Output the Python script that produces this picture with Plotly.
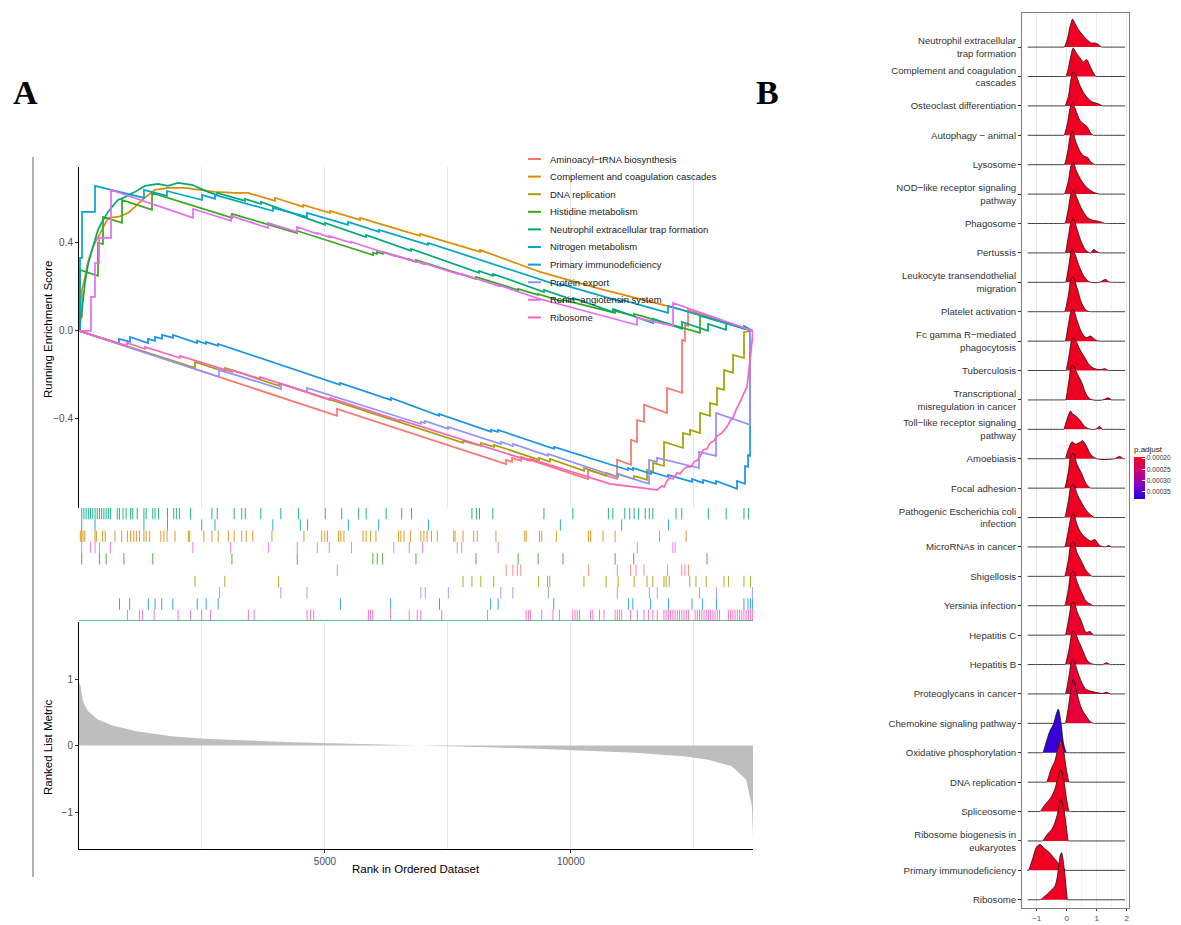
import plotly.graph_objects as go
from plotly.colors import sample_colorscale

# The page body keeps a default 8px margin, so the figure is drawn 8px in from the window corner.
PAGE_W, PAGE_H = 1181, 925
BODY_OFF = 8
FIG_W, FIG_H = PAGE_W - BODY_OFF, PAGE_H - BODY_OFF

# ================= Panel A : GSEA plot data =================
n_genes = 13702

set_names = [
    "Aminoacyl−tRNA biosynthesis",
    "Complement and coagulation cascades",
    "DNA replication",
    "Histidine metabolism",
    "Neutrophil extracellular trap formation",
    "Nitrogen metabolism",
    "Primary immunodeficiency",
    "Protein export",
    "Renin−angiotensin system",
    "Ribosome",
]
set_colors = ["#F8766D", "#DE8C00", "#A3A000", "#36A81E", "#00A878",
              "#00A5C8", "#1A92E8", "#9590FF", "#E76BF3", "#FF62BC"]

# running enrichment score (rank, ES) vertices
es_rank_aminoacyl = [0, 5245, 5245, 8681, 8681, 8803, 8803, 8986, 8986, 10348, 10348, 10938, 10938, 11222, 11222,
                     11344, 11344, 11486, 11486, 11954, 11954, 12259, 12259, 12320, 12320, 12381, 12381, 13702]
es_val_aminoacyl = [0, -0.386, -0.355, -0.605, -0.586, -0.595, -0.577, -0.591, -0.573, -0.673, -0.632, -0.673, -0.586,
                    -0.609, -0.495, -0.505, -0.405, -0.414, -0.336, -0.373, -0.259, -0.282, -0.041, -0.045, 0.027,
                    0.023, 0.095, 0]

es_rank_complement = [0, 20, 61, 61, 122, 183, 264, 325, 468, 590, 793, 996, 1138, 1281, 1545, 1809, 2155, 2501, 2765,
                      3171, 3436, 3985, 3985, 4554, 4554, 5103, 5103, 5713, 5713, 6933, 6933, 8152, 8152, 9372, 10592,
                      11873, 12279, 13702]
es_val_complement = [0, 0.064, 0.064, 0.186, 0.245, 0.314, 0.368, 0.4, 0.459, 0.514, 0.518, 0.536, 0.564, 0.595,
                     0.641, 0.65, 0.65, 0.641, 0.632, 0.627, 0.627, 0.591, 0.605, 0.564, 0.573, 0.536, 0.545, 0.505,
                     0.514, 0.432, 0.441, 0.359, 0.368, 0.268, 0.191, 0.118, 0.095, 0]

es_rank_dna = [0, 2358, 2358, 2968, 2968, 4066, 4066, 7807, 7807, 8173, 8173, 8437, 8437, 9352, 9352, 9575, 9575,
               10267, 10267, 10714, 10714, 10958, 10958, 11283, 11283, 11547, 11547, 11670, 11670, 11893, 11893,
               12279, 12279, 12422, 12422, 12625, 12625, 12828, 12828, 12970, 12970, 13113, 13113, 13296, 13296,
               13519, 13519, 13702]
es_val_dna = [0, -0.168, -0.141, -0.186, -0.168, -0.25, -0.236, -0.509, -0.5, -0.523, -0.509, -0.527, -0.518, -0.586,
              -0.577, -0.595, -0.582, -0.636, -0.623, -0.659, -0.645, -0.664, -0.65, -0.673, -0.659, -0.677, -0.632,
              -0.641, -0.6, -0.614, -0.505, -0.532, -0.464, -0.473, -0.45, -0.464, -0.373, -0.386, -0.327, -0.336,
              -0.259, -0.268, -0.177, -0.191, -0.109, -0.123, -0.005, 0]

es_rank_histidine = [0, 20, 20, 386, 386, 488, 488, 874, 874, 1484, 1484, 3110, 3110, 4432, 4432, 5977, 5977, 6058,
                     6058, 6180, 6180, 6851, 6851, 8071, 8071, 8925, 8925, 9331, 9331, 9840, 9840, 10897, 10897,
                     11283, 11283, 12625, 12625, 13702]
es_val_histidine = [0, 0, 0.277, 0.25, 0.4, 0.395, 0.518, 0.491, 0.595, 0.55, 0.627, 0.514, 0.532, 0.445, 0.455,
                    0.345, 0.355, 0.35, 0.359, 0.35, 0.359, 0.314, 0.323, 0.236, 0.245, 0.186, 0.191, 0.164, 0.168,
                    0.132, 0.141, 0.082, 0.091, 0.068, 0.077, -0.009, 0.068, 0]

es_rank_neutrophil = [0, 61, 122, 183, 264, 325, 386, 468, 529, 590, 671, 793, 935, 1138, 1342, 1606, 1809, 2013,
                      2297, 2623, 2806, 2806, 3375, 3375, 3700, 3700, 4493, 5001, 5001, 5835, 5835, 6750, 6750, 8132,
                      8132, 8417, 8417, 9453, 9453, 10043, 10043, 10856, 10856, 11670, 11670, 12259, 12259, 12788,
                      12788, 13154, 13154, 13519, 13519, 13702]
es_val_neutrophil = [0, 0.095, 0.218, 0.3, 0.368, 0.414, 0.459, 0.495, 0.518, 0.541, 0.564, 0.595, 0.609, 0.632,
                     0.659, 0.668, 0.659, 0.673, 0.664, 0.632, 0.618, 0.627, 0.591, 0.6, 0.577, 0.586, 0.523, 0.482,
                     0.491, 0.427, 0.436, 0.364, 0.373, 0.264, 0.273, 0.25, 0.259, 0.177, 0.186, 0.141, 0.15, 0.086,
                     0.1, 0.036, 0.055, 0.009, 0.041, 0, 0.032, 0.005, 0.036, 0.009, 0.023, 0]

es_rank_nitrogen = [0, 20, 20, 61, 61, 325, 325, 1321, 1321, 1789, 1789, 2501, 2501, 2765, 2765, 3944, 3944, 4493,
                    4635, 4635, 5469, 5469, 6099, 6099, 7095, 7095, 9372, 9779, 9779, 11039, 11039, 11873, 11975,
                    11975, 13702]
es_val_nitrogen = [0, 0, 0.332, 0.332, 0.541, 0.541, 0.659, 0.605, 0.641, 0.614, 0.636, 0.595, 0.618, 0.6, 0.618,
                   0.545, 0.559, 0.527, 0.518, 0.536, 0.482, 0.495, 0.45, 0.459, 0.391, 0.4, 0.232, 0.205, 0.214,
                   0.132, 0.141, 0.086, 0.082, 0.114, 0]

es_rank_primary = [0, 813, 813, 1037, 1037, 1403, 1403, 1545, 1545, 1687, 1687, 1911, 1911, 2399, 2399, 2582, 2582,
                   2826, 2826, 5306, 5306, 6343, 6343, 7319, 7319, 8376, 8376, 8518, 8518, 9657, 9657, 11161, 11161,
                   11263, 11263, 11629, 11629, 11975, 11975, 12462, 12462, 12686, 12686, 12950, 12950, 13377, 13377,
                   13540, 13540, 13601, 13601, 13642, 13642, 13702]
es_val_primary = [0, -0.059, -0.036, -0.05, -0.027, -0.055, -0.036, -0.045, -0.027, -0.036, -0.018, -0.032, -0.018,
                  -0.055, -0.045, -0.059, -0.05, -0.068, -0.059, -0.245, -0.236, -0.314, -0.305, -0.386, -0.377,
                  -0.459, -0.45, -0.459, -0.45, -0.536, -0.527, -0.632, -0.623, -0.632, -0.623, -0.65, -0.641,
                  -0.664, -0.655, -0.686, -0.673, -0.691, -0.677, -0.695, -0.682, -0.718, -0.682, -0.695, -0.614,
                  -0.618, -0.564, -0.568, 0, 0]

es_rank_protein = [0, 2846, 2846, 4107, 4107, 4635, 4635, 6953, 6953, 7034, 7034, 7502, 7502, 8579, 8579, 8823, 8823,
                   9535, 9535, 10938, 10938, 11588, 11588, 11751, 11751, 12605, 12605, 12950, 12950, 13642, 13642,
                   13702]
es_val_protein = [0, -0.209, -0.177, -0.264, -0.241, -0.277, -0.259, -0.423, -0.414, -0.418, -0.409, -0.445, -0.436,
                  -0.514, -0.505, -0.523, -0.514, -0.568, -0.559, -0.664, -0.65, -0.695, -0.586, -0.595, -0.577,
                  -0.623, -0.55, -0.568, -0.373, -0.427, 0, 0]

es_rank_renin = [0, 244, 244, 325, 325, 407, 407, 651, 651, 2318, 2318, 3091, 3091, 3842, 3842, 4432, 4432, 4839,
                 4839, 5083, 5083, 5530, 5530, 6404, 6404, 6709, 6709, 6994, 6994, 7685, 7685, 7786, 7786, 8518, 8518,
                 9372, 11344, 11344, 12076, 12076, 13702]
es_val_renin = [0, 0, 0.155, 0.155, 0.309, 0.309, 0.423, 0.423, 0.641, 0.514, 0.555, 0.5, 0.523, 0.468, 0.491, 0.45,
                0.473, 0.441, 0.445, 0.427, 0.432, 0.4, 0.405, 0.341, 0.345, 0.323, 0.327, 0.305, 0.309, 0.259,
                0.264, 0.255, 0.259, 0.205, 0.209, 0.145, 0.027, 0.059, 0.023, 0.127, 0]

es_rank_ribosome = [0, 976, 976, 1342, 1342, 2053, 2053, 3110, 3110, 3680, 3680, 5103, 5103, 6526, 6526, 8152, 9169,
                    9169, 9779, 10795, 11751, 11853, 11893, 11954, 12015, 12076, 12157, 12218, 12300, 12361, 12442,
                    12503, 12584, 12645, 12686, 12767, 12828, 12910, 12970, 13052, 13113, 13174, 13235, 13296, 13357,
                    13397, 13438, 13479, 13519, 13560, 13581, 13601, 13621, 13642, 13662, 13682, 13702]
es_val_ribosome = [0, -0.068, -0.055, -0.082, -0.073, -0.123, -0.114, -0.186, -0.177, -0.218, -0.209, -0.314,
                   -0.305, -0.409, -0.405, -0.518, -0.591, -0.582, -0.623, -0.695, -0.723, -0.705, -0.709, -0.682,
                   -0.668, -0.673, -0.645, -0.65, -0.627, -0.618, -0.618, -0.595, -0.586, -0.564, -0.541, -0.536,
                   -0.509, -0.5, -0.477, -0.468, -0.45, -0.436, -0.409, -0.395, -0.359, -0.341, -0.327, -0.305,
                   -0.282, -0.264, -0.255, -0.214, -0.177, -0.141, -0.095, -0.05, 0]

# hit positions (rug)
hits_neutrophil = [55, 100, 145, 190, 235, 280, 326, 371, 416, 461, 506, 552, 597, 642, 777, 823, 895, 958, 1049,
                   1094, 1184, 1320, 1365, 1500, 1546, 1618, 1799, 1925, 1979, 2042, 2268, 2702, 2811, 3154, 3308,
                   3380, 3696, 4103, 4464, 5007, 5341, 5684, 5838, 6244, 6561, 6760, 7988, 8079, 8142, 8413, 9452,
                   10039, 10762, 10853, 11096, 11196, 11286, 11377, 11512, 11594, 11666, 12136, 12253, 12795, 13157,
                   13518, 13609]
hits_nitrogen = [55, 326, 1320, 1799, 2494, 2765, 3940, 4500, 4645, 5476, 6091, 7103, 9786, 11033, 11982]
hits_complement = [27, 55, 82, 118, 326, 353, 479, 533, 732, 868, 985, 1049, 1112, 1166, 1229, 1320, 1365, 1437,
                   1663, 1726, 1790, 1952, 2223, 2250, 2539, 2702, 2829, 3036, 3154, 3308, 3398, 3533, 3922, 4573,
                   4934, 4997, 5051, 5277, 5323, 5386, 5775, 5838, 5928, 6036, 6497, 6543, 6606, 6741, 6949, 7012,
                   7076, 7166, 7284, 7618, 7645, 7808, 8024, 8097, 8476, 9063, 9090, 9362, 9407, 9705, 10356, 10401,
                   10654, 10899, 11802, 12343]
hits_renin = [55, 235, 326, 416, 642, 2314, 3082, 3850, 4437, 4844, 5088, 5539, 6398, 6714, 6985, 7690, 7780, 8521,
              11350, 12073, 12118]
hits_histidine = [55, 416, 552, 913, 1500, 3109, 4437, 5973, 6063, 6172, 6850, 8070, 8928, 9334, 9840, 10899,
                  11277, 12768]
hits_aminoacyl = [5250, 8684, 8820, 8910, 8982, 10356, 10943, 11214, 11323, 11485, 11964, 12253, 12317, 12389]
hits_dna = [2359, 2964, 4058, 7808, 7988, 8169, 8431, 9344, 9525, 9570, 10265, 10717, 10961, 11286, 11548, 11666,
            11892, 11937, 12000, 12416, 12543, 12751, 13112, 13202, 13518, 13654]
hits_protein = [2856, 4103, 4636, 6949, 7039, 7509, 8576, 8820, 9543, 10943, 11594, 11756, 12615, 12958, 13690]
hits_primary = [823, 1030, 1410, 1546, 1681, 1907, 2404, 2585, 2829, 5314, 6335, 7329, 8368, 8521, 9651, 11169,
                11259, 11621, 11982, 12461, 12678, 12958, 13518, 13600, 13650, 13690]
hits_ribosome = [985, 1229, 1293, 1528, 2015, 2268, 2494, 2675, 3443, 3560, 4636, 4708, 4771, 5883, 5928, 5973,
                 6335, 6714, 6877, 6949, 7374, 8305, 9090, 9136, 9181, 9407, 9633, 9768, 10039, 10084, 10130, 10175,
                 10401, 10446, 10582, 10672, 10899, 10943, 10989, 11033, 11214, 11350, 11485, 11576, 11666, 11756,
                 11892, 11937, 11983, 12028, 12073, 12118, 12163, 12208, 12254, 12299, 12344, 12389, 12525, 12570,
                 12615, 12660, 12706, 12751, 12796, 12841, 12886, 12931, 12977, 13022, 13202, 13247, 13292, 13337,
                 13383, 13428, 13473, 13518, 13563, 13608, 13654, 13690]

# ranked list metric (rank, value)
metric_rank = [1, 30, 80, 180, 380, 680, 1170, 1870, 2560, 3350, 4350, 5340, 6330, 7320, 8310, 9300, 10300, 11290,
               12280, 12770, 13270, 13560, 13680, 13702]
metric_value = [0.95, 0.9, 0.66, 0.52, 0.39, 0.30, 0.215, 0.14, 0.10, 0.075, 0.05, 0.03, 0.015, 0.0, -0.025, -0.05,
                -0.075, -0.11, -0.16, -0.21, -0.31, -0.51, -0.91, -1.38]
rank_tick_vals = [5000, 10000]
rank_tick_text = ["5000", "10000"]

# ================= Panel B : ridge plot data =================
ridge_labels = [
    "Neutrophil extracellular<br>trap formation", "Complement and coagulation<br>cascades",
    "Osteoclast differentiation", "Autophagy − animal", "Lysosome",
    "NOD−like receptor signaling<br>pathway", "Phagosome", "Pertussis",
    "Leukocyte transendothelial<br>migration", "Platelet activation",
    "Fc gamma R−mediated<br>phagocytosis", "Tuberculosis", "Transcriptional<br>misregulation in cancer",
    "Toll−like receptor signaling<br>pathway", "Amoebiasis", "Focal adhesion",
    "Pathogenic Escherichia coli<br>infection", "MicroRNAs in cancer", "Shigellosis", "Yersinia infection",
    "Hepatitis C", "Hepatitis B", "Proteoglycans in cancer", "Chemokine signaling pathway",
    "Oxidative phosphorylation", "DNA replication", "Spliceosome", "Ribosome biogenesis in<br>eukaryotes",
    "Primary immunodeficiency", "Ribosome",
]
ridge_padj = [0.0002, 0.0002, 0.0002, 0.0002, 0.0002, 0.0002, 0.0002, 0.0002, 0.0002, 0.0002,
              0.0002, 0.0002, 0.0002, 0.0002, 0.0002, 0.0002, 0.0002, 0.0002, 0.0002, 0.0002,
              0.000205, 0.000205, 0.000212, 0.000215, 0.00037, 0.0002, 0.0002, 0.0002, 0.0002, 0.0002]

rx_neutrophil = [-0.08, 0.02, 0.11, 0.2, 0.28, 0.39, 0.53, 0.67, 0.83, 0.94, 1.06, 1.17]
rh_neutrophil = [0, 0.26, 0.68, 0.95, 0.8, 0.6, 0.42, 0.26, 0.14, 0.14, 0.09, 0]
rx_complement = [-0.03, 0.06, 0.14, 0.22, 0.31, 0.44, 0.56, 0.67, 0.76, 0.87, 0.98]
rh_complement = [0, 0.3, 0.7, 0.97, 0.82, 0.64, 0.5, 0.58, 0.4, 0.17, 0]
rx_osteoclast = [-0.06, 0.06, 0.14, 0.22, 0.31, 0.44, 0.61, 0.83, 1.06, 1.2]
rh_osteoclast = [0, 0.34, 0.88, 1.17, 1.05, 0.7, 0.38, 0.15, 0.07, 0]
rx_autophagy = [-0.09, 0.02, 0.12, 0.2, 0.3, 0.45, 0.55, 0.68, 0.8, 0.9]
rh_autophagy = [0, 0.38, 0.95, 1.12, 0.86, 0.5, 0.4, 0.3, 0.08, 0]
rx_lysosome = [-0.08, 0.03, 0.12, 0.2, 0.3, 0.45, 0.6, 0.7, 0.8, 0.95]
rh_lysosome = [0, 0.42, 0.98, 1.12, 0.8, 0.45, 0.28, 0.25, 0.1, 0]
rx_nod = [-0.08, 0.05, 0.15, 0.22, 0.32, 0.5, 0.7, 0.9, 1.1]
rh_nod = [0, 0.42, 0.98, 1.08, 0.8, 0.45, 0.2, 0.06, 0]
rx_phagosome = [-0.06, 0.05, 0.15, 0.23, 0.35, 0.5, 0.7, 0.9, 1.05, 1.3]
rh_phagosome = [0, 0.47, 1.02, 1.12, 0.85, 0.5, 0.2, 0.1, 0.08, 0]
rx_pertussis = [-0.05, 0.05, 0.15, 0.22, 0.35, 0.5, 0.65, 0.8, 0.9, 1.0, 1.1]
rh_pertussis = [0, 0.52, 1.07, 1.17, 0.8, 0.35, 0.08, 0, 0.12, 0.05, 0]
rx_leukocyte = [-0.04, 0.08, 0.17, 0.25, 0.4, 0.55, 0.75, 1.1, 1.3, 1.4, 1.5]
rh_leukocyte = [0, 0.62, 1.12, 1.02, 0.6, 0.25, 0.02, 0, 0.1, 0.02, 0]
rx_platelet = [-0.07, 0.05, 0.15, 0.22, 0.35, 0.5, 0.65, 0.8]
rh_platelet = [0, 0.52, 1.12, 1.17, 0.8, 0.3, 0.05, 0]
rx_fcgamma = [-0.05, 0.05, 0.15, 0.22, 0.35, 0.5, 0.65, 0.8, 0.95, 1.1]
rh_fcgamma = [0, 0.52, 1.02, 1.07, 0.7, 0.3, 0.12, 0.17, 0.05, 0]
rx_tuberculosis = [-0.03, 0.08, 0.2, 0.3, 0.45, 0.6, 0.75, 0.9, 1.1, 1.28, 1.4]
rh_tuberculosis = [0, 0.52, 1.12, 1.02, 0.7, 0.45, 0.2, 0.08, 0.03, 0.06, 0]
rx_transcript = [-0.04, 0.07, 0.17, 0.25, 0.35, 0.5, 0.65, 0.8, 1.2, 1.39, 1.5]
rh_transcript = [0, 0.62, 1.17, 1.12, 0.9, 0.6, 0.2, 0.02, 0, 0.07, 0]
rx_toll = [-0.1, 0.0, 0.13, 0.2, 0.3, 0.45, 0.6, 0.8, 1.0, 1.09, 1.2]
rh_toll = [0, 0.3, 0.62, 0.52, 0.46, 0.3, 0.1, 0.0, 0.02, 0.1, 0]
rx_amoebiasis = [-0.05, 0.05, 0.18, 0.3, 0.45, 0.53, 0.65, 0.8, 1.0, 1.6, 1.76, 1.9]
rh_amoebiasis = [0, 0.3, 0.57, 0.5, 0.56, 0.62, 0.45, 0.15, 0.0, 0, 0.08, 0]
rx_focal = [-0.07, 0.05, 0.15, 0.23, 0.35, 0.5, 0.65, 0.8]
rh_focal = [0, 0.52, 1.12, 1.17, 0.8, 0.5, 0.15, 0]
rx_pathogenic = [-0.07, 0.05, 0.15, 0.23, 0.35, 0.5, 0.65, 0.85, 0.95]
rh_pathogenic = [0, 0.52, 1.07, 1.12, 0.8, 0.5, 0.25, 0.05, 0]
rx_micrornas = [-0.07, 0.05, 0.15, 0.23, 0.35, 0.5, 0.65, 0.8, 0.94, 1.1, 1.3, 1.39, 1.5]
rh_micrornas = [0, 0.52, 1.02, 1.12, 0.75, 0.45, 0.3, 0.2, 0.25, 0.05, 0, 0.05, 0]
rx_shigellosis = [-0.07, 0.05, 0.15, 0.23, 0.35, 0.5, 0.65, 0.85]
rh_shigellosis = [0, 0.52, 1.12, 1.17, 0.8, 0.5, 0.2, 0]
rx_yersinia = [-0.07, 0.05, 0.15, 0.23, 0.35, 0.5, 0.65, 0.8, 0.9]
rh_yersinia = [0, 0.52, 1.12, 1.17, 0.8, 0.45, 0.15, 0.05, 0]
rx_hepc = [-0.05, 0.08, 0.18, 0.25, 0.35, 0.5, 0.65, 0.78, 0.9]
rh_hepc = [0, 0.62, 1.12, 1.12, 0.8, 0.45, 0.1, 0.12, 0]
rx_hepb = [-0.05, 0.08, 0.2, 0.28, 0.4, 0.55, 0.7, 0.85, 1.2, 1.33, 1.45]
rh_hepb = [0, 0.52, 1.12, 1.07, 0.8, 0.45, 0.12, 0.02, 0, 0.06, 0]
rx_proteoglycans = [-0.05, 0.08, 0.18, 0.25, 0.35, 0.5, 0.65, 0.8, 0.95, 1.2, 1.33, 1.45]
rh_proteoglycans = [0, 0.62, 1.17, 1.12, 0.8, 0.4, 0.15, 0.1, 0.06, 0.02, 0.06, 0]
rx_chemokine = [-0.05, 0.05, 0.15, 0.22, 0.35, 0.5, 0.65, 0.8, 0.9]
rh_chemokine = [0, 0.5, 1.2, 1.5, 1.0, 0.5, 0.25, 0.05, 0]
rx_oxidative = [-0.8, -0.7, -0.56, -0.45, -0.35, -0.28, -0.2, -0.1, 0.0]
rh_oxidative = [0, 0.3, 0.74, 0.95, 1.3, 1.48, 1.1, 0.3, 0]
rx_dnarep = [-0.67, -0.55, -0.5, -0.4, -0.3, -0.2, -0.12, -0.02, 0.09]
rh_dnarep = [0, 0.35, 0.49, 0.7, 1.1, 1.45, 1.2, 0.5, 0]
rx_spliceosome = [-0.89, -0.75, -0.6, -0.5, -0.4, -0.3, -0.19, -0.1, 0.0, 0.09]
rh_spliceosome = [0, 0.2, 0.38, 0.52, 0.75, 1.1, 1.43, 1.1, 0.4, 0]
rx_ribbiog = [-0.8, -0.7, -0.6, -0.5, -0.4, -0.3, -0.19, -0.1, 0.0, 0.06]
rh_ribbiog = [0, 0.15, 0.28, 0.39, 0.6, 0.95, 1.41, 1.1, 0.4, 0]
rx_primary = [-1.28, -1.15, -1.0, -0.89, -0.75, -0.56, -0.45, -0.33, -0.2, -0.02]
rh_primary = [0, 0.35, 0.8, 0.88, 0.75, 0.59, 0.45, 0.31, 0.12, 0]
rx_ribosome = [-0.89, -0.78, -0.67, -0.5, -0.4, -0.33, -0.27, -0.22, -0.17, -0.09, 0.0, 0.03]
rh_ribosome = [0, 0.08, 0.17, 0.34, 0.45, 0.68, 1.1, 1.48, 1.6, 1.14, 0.23, 0]

ridge_range = [-1.3, 1.95]
ridge_tick_vals = [-1, 0, 1, 2]
ridge_tick_text = ["−1", "0", "1", "2"]

# p.adjust colour-bar ticks
padj_tick_vals = [0.0002, 0.00025, 0.0003, 0.00035]
padj_tick_text = ["0.00020", "0.00025", "0.00030", "0.00035"]

# ================= build figure =================
es_ranks = [es_rank_aminoacyl, es_rank_complement, es_rank_dna, es_rank_histidine, es_rank_neutrophil,
            es_rank_nitrogen, es_rank_primary, es_rank_protein, es_rank_renin, es_rank_ribosome]
es_vals = [es_val_aminoacyl, es_val_complement, es_val_dna, es_val_histidine, es_val_neutrophil,
           es_val_nitrogen, es_val_primary, es_val_protein, es_val_renin, es_val_ribosome]
hits = [hits_aminoacyl, hits_complement, hits_dna, hits_histidine, hits_neutrophil,
        hits_nitrogen, hits_primary, hits_protein, hits_renin, hits_ribosome]
# rug rows from top to bottom (index into set_names)
rug_order = [4, 5, 1, 8, 3, 0, 2, 7, 6, 9]

ridge_x = [rx_neutrophil, rx_complement, rx_osteoclast, rx_autophagy, rx_lysosome, rx_nod, rx_phagosome,
           rx_pertussis, rx_leukocyte, rx_platelet, rx_fcgamma, rx_tuberculosis, rx_transcript, rx_toll,
           rx_amoebiasis, rx_focal, rx_pathogenic, rx_micrornas, rx_shigellosis, rx_yersinia, rx_hepc, rx_hepb,
           rx_proteoglycans, rx_chemokine, rx_oxidative, rx_dnarep, rx_spliceosome, rx_ribbiog, rx_primary,
           rx_ribosome]
ridge_h = [rh_neutrophil, rh_complement, rh_osteoclast, rh_autophagy, rh_lysosome, rh_nod, rh_phagosome,
           rh_pertussis, rh_leukocyte, rh_platelet, rh_fcgamma, rh_tuberculosis, rh_transcript, rh_toll,
           rh_amoebiasis, rh_focal, rh_pathogenic, rh_micrornas, rh_shigellosis, rh_yersinia, rh_hepc, rh_hepb,
           rh_proteoglycans, rh_chemokine, rh_oxidative, rh_dnarep, rh_spliceosome, rh_ribbiog, rh_primary,
           rh_ribosome]

FONT = "Arial, Liberation Sans, sans-serif"


def px_x(px):
    # window pixel -> paper fraction
    return (px - BODY_OFF) / FIG_W


def px_y(py):
    return 1 - (py - BODY_OFF) / FIG_H


fig = go.Figure()

# --- running ES lines
for name, col, rk, ev in zip(set_names, set_colors, es_ranks, es_vals):
    fig.add_trace(go.Scatter(x=rk, y=ev, mode="lines", name=name, line=dict(color=col, width=1.7),
                             xaxis="x", yaxis="y", showlegend=False, hoverinfo="skip"))

# --- rug of hits
n_sets = len(rug_order)
for row, si in enumerate(rug_order):
    level = n_sets - 1 - row
    xs, ys = [], []
    for r in hits[si]:
        xs += [r, r, None]
        ys += [level, level + 1, None]
    fig.add_trace(go.Scatter(x=xs, y=ys, mode="lines", line=dict(color=set_colors[si], width=1),
                             opacity=0.85, xaxis="x2", yaxis="y2", showlegend=False, hoverinfo="skip"))
fig.add_trace(go.Scatter(x=[0, n_genes], y=[0, 0], mode="lines", line=dict(color="#3DAA6E", width=1.6),
                         xaxis="x2", yaxis="y2", showlegend=False, hoverinfo="skip"))

# --- ranked metric
fig.add_trace(go.Scatter(x=metric_rank, y=metric_value, mode="lines", fill="tozeroy", fillcolor="#BEBEBE",
                         line=dict(width=0, color="#BEBEBE"), xaxis="x3", yaxis="y3", showlegend=False,
                         hoverinfo="skip"))

# --- ridges (colour from p.adjust; scale reversed so small p.adjust = red at the top of the bar)
cb_scale = [[0.0, "#2200E0"], [0.35, "#8A00C2"], [0.7, "#D2006E"], [1.0, "#F2001C"]]
cb_min, cb_max = -0.000382, -0.000195
n_cat = len(ridge_labels)
for i in range(n_cat):
    base = n_cat - i
    t = (-ridge_padj[i] - cb_min) / (cb_max - cb_min)
    t = min(max(t, 0.0), 1.0)
    fill_col = sample_colorscale(cb_scale, [t])[0]
    rx = list(ridge_x[i])
    rh = list(ridge_h[i])
    xs = [ridge_range[0], rx[0] - 0.03] + rx + [rx[-1] + 0.03, ridge_range[1]]
    ys = [base, base] + [base + h for h in rh] + [base, base]
    fig.add_trace(go.Scatter(x=xs, y=ys, mode="lines", fill="toself", fillcolor=fill_col,
                             line=dict(color="#111111", width=0.8, shape="spline", smoothing=0.9),
                             xaxis="x4", yaxis="y4", showlegend=False, hoverinfo="skip"))

# --- colorbar for p.adjust
fig.add_trace(go.Scatter(
    x=[-5, -5], y=[-5, -5], mode="markers", xaxis="x4", yaxis="y4", showlegend=False, hoverinfo="skip",
    marker=dict(size=1, color=[cb_min, cb_max], cmin=cb_min, cmax=cb_max, colorscale=cb_scale, showscale=True,
                colorbar=dict(
                    title=dict(text="p.adjust", side="top", font=dict(size=8, color="#222", family=FONT)),
                    tickmode="array",
                    tickvals=[-v for v in padj_tick_vals],
                    ticktext=padj_tick_text,
                    tickfont=dict(size=6.6, color="#333", family=FONT),
                    x=px_x(1134), xanchor="left", y=px_y(443), yanchor="top",
                    len=56, lenmode="pixels", thickness=11, thicknessmode="pixels",
                    outlinewidth=0, ticks="inside", tickcolor="white", ticklen=3, xpad=0, ypad=0))))

A_X = [px_x(79), px_x(753)]
tick_font = dict(size=10, color="#4D4D4D", family=FONT)
grid_col = "#E6E6E6"

fig.update_layout(
    width=FIG_W, height=FIG_H, margin=dict(l=0, r=0, t=0, b=0, autoexpand=False),
    paper_bgcolor="white", plot_bgcolor="white", font=dict(family=FONT),
    xaxis=dict(domain=A_X, range=[0, n_genes], anchor="y", showticklabels=False, ticks="",
               tickvals=[2500, 5000, 7500, 10000, 12500], showgrid=True, gridcolor=grid_col, gridwidth=1,
               zeroline=False, showline=False, automargin=False),
    yaxis=dict(domain=[px_y(508), px_y(167)], range=[-0.805, 0.745], anchor="x",
               tickvals=[-0.4, 0, 0.4], tickformat=".1f", showline=True, linecolor="black", linewidth=1,
               ticks="outside", ticklen=3, tickcolor="#333", showgrid=False, zeroline=False, tickfont=tick_font,
               automargin=False),
    xaxis2=dict(domain=A_X, range=[0, n_genes], anchor="y2", visible=False, automargin=False),
    yaxis2=dict(domain=[px_y(621), px_y(508)], range=[0, 10], anchor="x2", visible=False, automargin=False),
    xaxis3=dict(domain=A_X, range=[0, n_genes], anchor="y3", tickmode="array", tickvals=rank_tick_vals,
                ticktext=rank_tick_text, showline=True,
                linecolor="black", linewidth=1, ticks="outside", ticklen=3, tickcolor="#333",
                showgrid=True, gridcolor=grid_col, zeroline=False, tickfont=tick_font, automargin=False,
                minor=dict(dtick=2500, tick0=0, showgrid=True, gridcolor=grid_col, ticks="")),
    yaxis3=dict(domain=[px_y(849), px_y(622)], range=[-1.556, 1.857], anchor="x3", tickvals=[-1, 0, 1],
                showline=True, linecolor="black", linewidth=1, ticks="outside", ticklen=3, tickcolor="#333",
                showgrid=False, zeroline=False, tickfont=tick_font, automargin=False),
    xaxis4=dict(domain=[px_x(1022), px_x(1129)], range=[-1.49, 2.08], anchor="y4", tickmode="array",
                tickvals=ridge_tick_vals, ticktext=ridge_tick_text,
                showline=True, mirror=True, linecolor="#7F7F7F", linewidth=1, ticks="outside", ticklen=2,
                tickcolor="#333", showgrid=True, gridcolor="#EBEBEB", zeroline=False, automargin=False,
                minor=dict(dtick=0.5, tick0=0, showgrid=True, gridcolor="#F3F3F3", ticks=""),
                tickfont=dict(size=8, color="#4D4D4D", family=FONT)),
    yaxis4=dict(domain=[px_y(908), px_y(13)], range=[0.72, 31.16], anchor="x4",
                tickmode="array", tickvals=[n_cat - i for i in range(n_cat)], ticktext=ridge_labels,
                showline=True, mirror=True, linecolor="#7F7F7F", linewidth=1, ticks="outside", ticklen=3,
                tickcolor="#333", showgrid=False, zeroline=False, automargin=False,
                tickfont=dict(size=9.6, color="#333333", family=FONT)),
)

annotations = [
    dict(text="<b>A</b>", x=px_x(25), y=px_y(92), xref="paper", yref="paper", showarrow=False,
         xanchor="center", yanchor="middle",
         font=dict(family="Liberation Serif, Times New Roman, serif", size=34, color="black")),
    dict(text="<b>B</b>", x=px_x(767), y=px_y(92), xref="paper", yref="paper", showarrow=False,
         xanchor="center", yanchor="middle",
         font=dict(family="Liberation Serif, Times New Roman, serif", size=34, color="black")),
    dict(text="Running Enrichment Score", x=px_x(48), y=px_y(330), xref="paper", yref="paper",
         showarrow=False, textangle=-90, xanchor="center", yanchor="middle",
         font=dict(size=11.5, color="black", family=FONT)),
    dict(text="Ranked List Metric", x=px_x(48), y=px_y(748), xref="paper", yref="paper",
         showarrow=False, textangle=-90, xanchor="center", yanchor="middle",
         font=dict(size=11.5, color="black", family=FONT)),
    dict(text="Rank in Ordered Dataset", x=px_x(416), y=px_y(869), xref="paper", yref="paper",
         showarrow=False, xanchor="center", yanchor="middle",
         font=dict(size=11.5, color="black", family=FONT)),
]
shapes = [
    dict(type="line", xref="paper", yref="paper", x0=px_x(33), x1=px_x(33), y0=px_y(157), y1=px_y(877),
         line=dict(color="#808080", width=1.2)),
]
# manual legend inside the ES panel
for i, (name, col) in enumerate(zip(set_names, set_colors)):
    ly = 159 + 17.6 * i
    shapes.append(dict(type="line", xref="paper", yref="paper", x0=px_x(528), x1=px_x(541),
                       y0=px_y(ly), y1=px_y(ly), line=dict(color=col, width=2)))
    annotations.append(dict(text=name, x=px_x(548), y=px_y(ly), xref="paper", yref="paper", showarrow=False,
                            xanchor="left", yanchor="middle", font=dict(size=9.5, color="#1A1A1A", family=FONT)))

fig.update_layout(annotations=annotations, shapes=shapes)

fig.write_html("out.html")
